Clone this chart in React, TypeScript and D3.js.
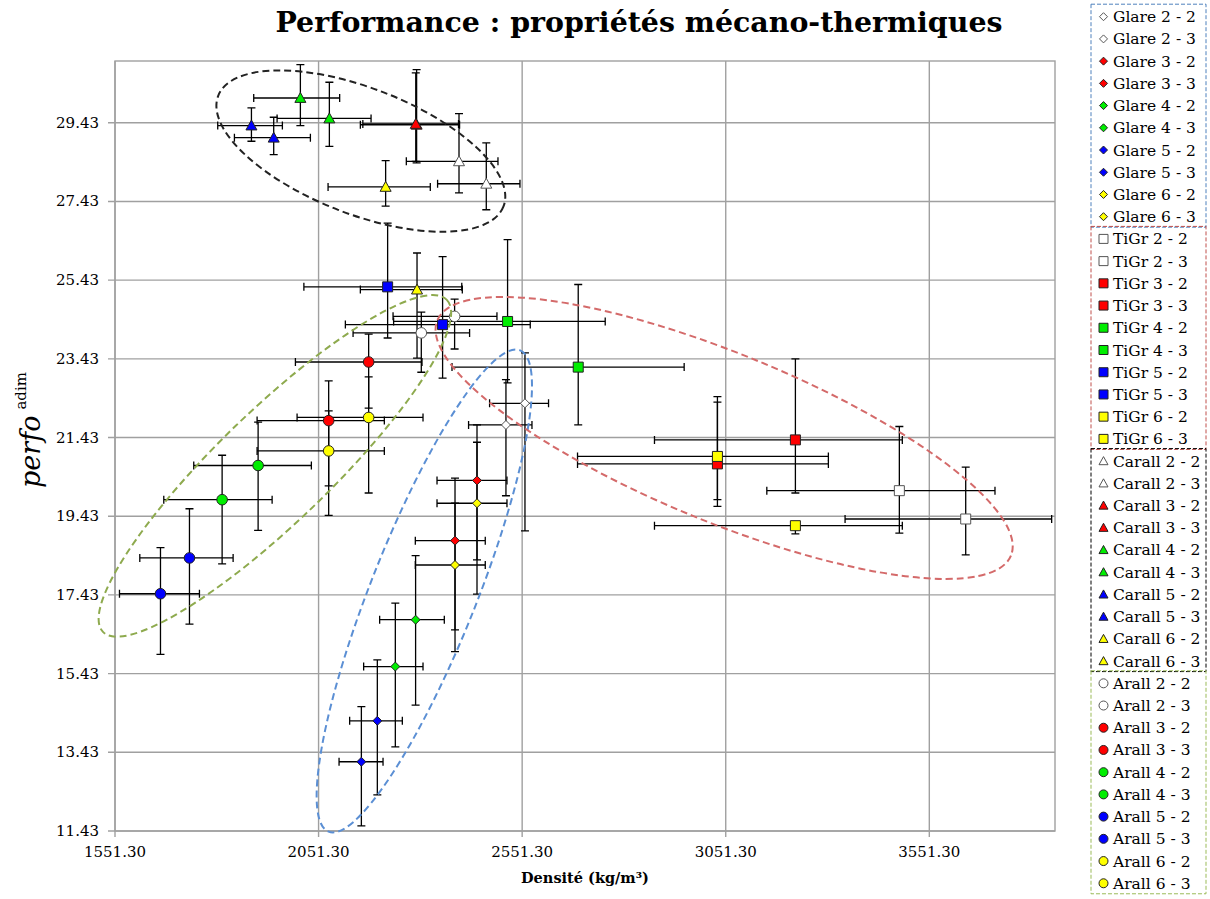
import React, { useEffect, useRef } from 'react'
import * as d3 from 'd3'

// niveaux 2..6, chaque niveau a deux séries (x - 2, x - 3)
const levels = ['2', '3', '4', '5', '6']
const levelColors = ['#ffffff', '#ff0000', '#00ee00', '#0000ff', '#ffff00']

const xTicks = [1551.3, 2051.3, 2551.3, 3051.3, 3551.3]
const yTicks = [11.43, 13.43, 15.43, 17.43, 19.43, 21.43, 23.43, 25.43, 27.43, 29.43]

// [x, y, xLow, xHigh, yLow, yHigh] — ordre : 2-2, 2-3, 3-2, 3-3, ... 6-3
const glare = [
  [2558.2, 22.3, 2471.3, 2616.1, 19.06, 23.58],
  [2511.5, 21.75, 2419.7, 2575.4, 19.95, 22.9],
  [2440.4, 20.34, 2342.2, 2514.0, 18.32, 21.75],
  [2386.4, 18.81, 2288.9, 2460.7, 16.54, 20.4],
  [2289.6, 16.8, 2201.3, 2360.1, 14.63, 18.43],
  [2239.8, 15.61, 2162.0, 2307.8, 13.57, 17.22],
  [2195.6, 14.23, 2127.6, 2257.0, 12.35, 15.78],
  [2156.4, 13.19, 2101.6, 2209.6, 11.56, 14.59],
  [2440.4, 19.76, 2342.2, 2514.0, 17.45, 21.31],
  [2386.4, 18.19, 2288.9, 2460.7, 15.99, 19.76],
]

const tigr = [
  [3477.7, 20.08, 3152.2, 3712.6, 19.0, 21.71],
  [3640.7, 19.36, 3344.4, 3851.8, 18.45, 20.68],
  [3030.9, 20.76, 2687.3, 3303.4, 19.68, 22.33],
  [3222.4, 21.37, 2876.3, 3485.0, 20.02, 23.43],
  [2515.5, 24.38, 2235.6, 2755.3, 22.82, 26.46],
  [2689.0, 23.22, 2379.0, 2949.2, 21.75, 25.32],
  [2220.9, 25.26, 2015.2, 2403.0, 23.96, 26.88],
  [2355.9, 24.3, 2117.1, 2571.2, 22.94, 26.03],
  [3030.9, 20.95, 2687.3, 3303.4, 19.85, 22.47],
  [3222.4, 19.19, 2876.3, 3485.0, 18.98, 19.29],
]

const carall = [
  [2396.2, 28.45, 2266.8, 2491.9, 27.65, 29.66],
  [2463.2, 27.88, 2343.6, 2545.9, 27.22, 28.92],
  [2292.1, 29.38, 2153.9, 2397.6, 28.41, 30.78],
  [2290.0, 29.4, 2160.0, 2395.0, 28.45, 30.7],
  [2006.6, 30.06, 1892.0, 2103.1, 29.36, 30.91],
  [2077.8, 29.54, 1949.4, 2180.2, 28.83, 30.46],
  [1886.4, 29.36, 1803.6, 1962.4, 28.96, 29.81],
  [1941.1, 29.05, 1844.6, 2031.2, 28.62, 29.57],
  [2216.0, 27.8, 2074.6, 2325.7, 27.31, 28.47],
  [2293.1, 25.19, 2153.9, 2404.3, 23.45, 26.12],
]

const arall = [
  [2385.4, 24.51, 2234.2, 2489.4, 23.68, 24.95],
  [2303.6, 24.09, 2136.0, 2422.2, 23.09, 24.62],
  [2174.3, 23.35, 1994.4, 2305.3, 22.18, 24.06],
  [2076.1, 21.86, 1900.3, 2212.8, 19.45, 22.87],
  [1902.8, 20.72, 1744.7, 2033.6, 19.07, 21.82],
  [1814.4, 19.85, 1671.1, 1937.2, 18.22, 20.98],
  [1734.2, 18.37, 1612.2, 1841.4, 16.69, 19.62],
  [1663.0, 17.46, 1562.3, 1758.7, 15.92, 18.63],
  [2174.3, 21.94, 1998.5, 2307.8, 20.02, 22.97],
  [2076.1, 21.09, 1900.3, 2212.8, 20.2, 22.11],
]

// ellipses de regroupement : centre en données, demi-axes en px, rotation en degrés
const groupEllipses = [
  { cx: 2155.1, cy: 28.71, rx: 153, ry: 63, rot: 21.2, color: '#222222' },
  { cx: 1944.0, cy: 20.71, rx: 239, ry: 56, rot: -44, color: '#8eaa4e' },
  { cx: 2311.0, cy: 17.53, rx: 259, ry: 53, rot: -68.3, color: '#5b8fd4' },
  { cx: 3047.4, cy: 21.42, rx: 310, ry: 84, rot: 22.3, color: '#d46a6a' },
]

const families = [
  { name: 'Glare', shape: 'diamond', data: glare, border: '#4f81bd' },
  { name: 'TiGr', shape: 'square', data: tigr, border: '#c0504d' },
  { name: 'Carall', shape: 'triangle', data: carall, border: '#000000' },
  { name: 'Arall', shape: 'circle', data: arall, border: '#9bbb59' },
]

const markerPath = (shape: string, r: number) => {
  if (shape === 'diamond') return `M0,${-r}L${r},0L0,${r}L${-r},0Z`
  if (shape === 'square') return `M${-r},${-r}H${r}V${r}H${-r}Z`
  if (shape === 'triangle') return `M0,${-r}L${r},${r * 0.8}L${-r},${r * 0.8}Z`
  return d3.symbol().type(d3.symbolCircle).size(Math.PI * r * r)() as string
}

const markerSize: Record<string, number> = { diamond: 4.5, square: 5, triangle: 5.5, circle: 5.3 }

const W = 1210
const H = 899
const M = { left: 115, right: 1055, top: 61, bottom: 831 }
const FONT = '"DejaVu Serif", serif'

const App = () => {
  const ref = useRef<SVGSVGElement>(null)

  useEffect(() => {
    const svg = d3.select(ref.current)
    svg.selectAll('*').remove()

    const x = d3.scaleLinear().domain([1551.3, 3860]).range([M.left, M.right])
    const y = d3.scaleLinear().domain([11.43, 31.0]).range([M.bottom, M.top])

    svg.append('rect').attr('width', W).attr('height', H).attr('fill', '#fff')

    // grille
    const grid = svg.append('g').attr('stroke', '#a0a0a0').attr('stroke-width', 1.4)
    grid.selectAll('.gx').data(xTicks).enter().append('line')
      .attr('x1', (d) => x(d)).attr('x2', (d) => x(d))
      .attr('y1', M.top).attr('y2', M.bottom + 6)
    grid.selectAll('.gy').data(yTicks).enter().append('line')
      .attr('x1', M.left - 7).attr('x2', M.right)
      .attr('y1', (d) => y(d)).attr('y2', (d) => y(d))
    grid.append('rect')
      .attr('x', M.left).attr('y', M.top)
      .attr('width', M.right - M.left).attr('height', M.bottom - M.top)
      .attr('fill', 'none')

    // étiquettes des axes
    svg.append('g').selectAll('text').data(yTicks).enter().append('text')
      .attr('x', 99).attr('y', (d) => y(d) + 5)
      .attr('text-anchor', 'end').attr('font-family', FONT).attr('font-size', 15)
      .text((d) => d.toFixed(2))
    svg.append('g').selectAll('text').data(xTicks).enter().append('text')
      .attr('x', (d) => x(d)).attr('y', 857)
      .attr('text-anchor', 'middle').attr('font-family', FONT).attr('font-size', 15)
      .text((d) => d.toFixed(2))

    // barres d'erreur
    const cap = 4
    const eb = svg.append('g').attr('stroke', '#000').attr('stroke-width', 1.3).attr('fill', 'none')
    families.forEach((f) => {
      f.data.forEach((p) => {
        const [px, py, xl, xh, yl, yh] = p
        const X = x(px), Y = y(py)
        eb.append('path').attr('d',
          `M${x(xl)},${Y}H${x(xh)}` +
          `M${x(xl)},${Y - cap}V${Y + cap}M${x(xh)},${Y - cap}V${Y + cap}` +
          `M${X},${y(yl)}V${y(yh)}` +
          `M${X - cap},${y(yl)}H${X + cap}M${X - cap},${y(yh)}H${X + cap}`)
      })
    })

    // marqueurs
    families.forEach((f) => {
      const g = svg.append('g')
      f.data.forEach((p, i) => {
        const c = levelColors[Math.floor(i / 2)]
        g.append('path')
          .attr('d', markerPath(f.shape, markerSize[f.shape]))
          .attr('transform', `translate(${x(p[0])},${y(p[1])})`)
          .attr('fill', c)
          .attr('stroke', i < 2 ? '#555' : '#222')
          .attr('stroke-width', 1)
      })
    })

    // ellipses
    svg.append('g').selectAll('ellipse').data(groupEllipses).enter().append('ellipse')
      .attr('cx', (d) => x(d.cx)).attr('cy', (d) => y(d.cy))
      .attr('rx', (d) => d.rx).attr('ry', (d) => d.ry)
      .attr('transform', (d) => `rotate(${d.rot},${x(d.cx)},${y(d.cy)})`)
      .attr('fill', 'none').attr('stroke', (d) => d.color)
      .attr('stroke-width', 2).attr('stroke-dasharray', '7,4')

    // titre
    svg.append('text')
      .attr('x', 639).attr('y', 32)
      .attr('text-anchor', 'middle').attr('font-family', FONT)
      .attr('font-weight', 'bold').attr('font-size', 27)
      .attr('textLength', 727).attr('lengthAdjust', 'spacingAndGlyphs')
      .text('Performance : propriétés mécano-thermiques')

    // titre axe x
    svg.append('text')
      .attr('x', 585).attr('y', 883)
      .attr('text-anchor', 'middle').attr('font-family', FONT)
      .attr('font-weight', 'bold').attr('font-size', 14.5)
      .text('Densité (kg/m³)')

    // titre axe y
    const yl = svg.append('text')
      .attr('transform', 'translate(40,488) rotate(-90)')
      .attr('font-family', FONT)
    yl.append('tspan').attr('font-style', 'italic').attr('font-size', 27).text('perfo')
    yl.append('tspan').attr('dx', 6).attr('dy', -14).attr('font-size', 15).text('adim')

    // légende
    const rowH = 22.22
    const row0 = 16.7
    const lg = svg.append('g')
    families.forEach((f, fi) => {
      const first = row0 + fi * 10 * rowH
      const last = first + 9 * rowH
      lg.append('rect')
        .attr('x', 1091).attr('y', first - 12.5)
        .attr('width', 115).attr('height', last - first + 23)
        .attr('fill', 'none').attr('stroke', f.border)
        .attr('stroke-width', 1).attr('stroke-dasharray', '4,2')
      f.data.forEach((_, i) => {
        const cy = first + i * rowH
        const lev = levels[Math.floor(i / 2)]
        const ms = f.shape === 'diamond' ? 4 : 4.5
        lg.append('path')
          .attr('d', markerPath(f.shape, ms))
          .attr('transform', `translate(1103.5,${cy})`)
          .attr('fill', levelColors[Math.floor(i / 2)])
          .attr('stroke', i < 2 ? '#555' : '#222').attr('stroke-width', 1)
        lg.append('text')
          .attr('x', 1113).attr('y', cy + 5.5)
          .attr('font-family', FONT).attr('font-size', 15.5)
          .text(`${f.name} ${lev} - ${(i % 2) + 2}`)
      })
    })
  })

  return (
    <svg
      ref={ref}
      width={W}
      height={H}
      style={{ position: 'absolute', left: 0, top: 0 }}
    />
  )
}

export default App
